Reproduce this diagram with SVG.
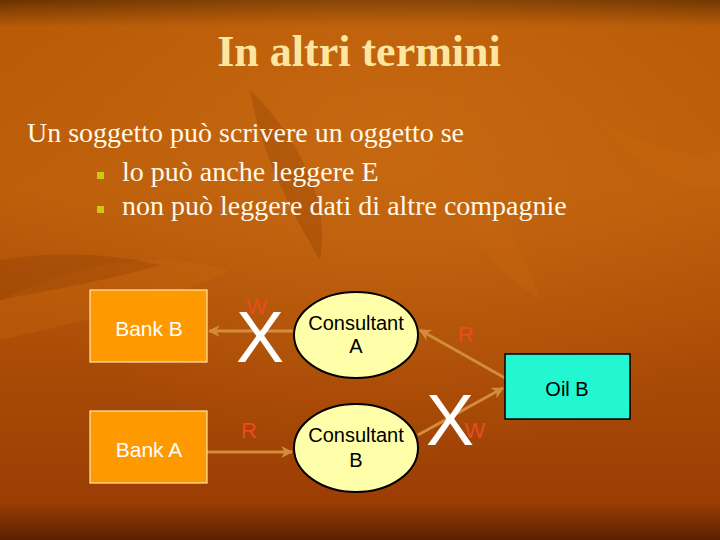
<svg xmlns="http://www.w3.org/2000/svg" width="720" height="540" viewBox="0 0 720 540">
<defs>
<linearGradient id="bg" x1="0" y1="0" x2="0" y2="1">
<stop offset="0" stop-color="#6a3300"/>
<stop offset="0.05" stop-color="#b85a06"/>
<stop offset="0.35" stop-color="#bc5e0a"/>
<stop offset="0.7" stop-color="#a84a06"/>
<stop offset="0.93" stop-color="#9c3e04"/>
<stop offset="1" stop-color="#5a2000"/>
</linearGradient>
<radialGradient id="glow" cx="0.55" cy="0.25" r="0.6">
<stop offset="0" stop-color="#d27418" stop-opacity="0.5"/>
<stop offset="1" stop-color="#d27418" stop-opacity="0"/>
</radialGradient>
<marker id="ah" viewBox="0 0 10 10" refX="9" refY="5" markerWidth="4" markerHeight="4" orient="auto" markerUnits="strokeWidth">
<path d="M0,0 L10,5 L0,10 L3,5 Z" fill="#d48c3c"/>
</marker>
<style>
.bank{fill:#ff9900;stroke:#ffe6b0;stroke-width:1.2}
.cons{fill:#ffffaa;stroke:#000;stroke-width:2}
.oil{fill:#22f7d2;stroke:#000;stroke-width:1.5}
.edge{stroke:#d48c3c;stroke-width:3;fill:none;marker-end:url(#ah)}
.ws{font-family:"Liberation Sans",Arial,sans-serif;fill:#fff;font-size:21px;text-anchor:middle}
.bs{font-family:"Liberation Sans",Arial,sans-serif;fill:#000;font-size:20px;text-anchor:middle}
.lab{font-family:"Liberation Sans",Arial,sans-serif;fill:#ec4a22;font-size:22px;text-anchor:middle}
.x{font-family:"Liberation Sans",Arial,sans-serif;fill:#fff;font-size:72px;text-anchor:middle}
.body{font-family:"Liberation Serif","Times New Roman",serif;fill:#fff8e8;font-size:28px}
.blt{fill:#cdc810}
</style>
</defs>
<rect width="720" height="540" fill="url(#bg)"/>
<rect width="720" height="540" fill="url(#glow)"/>
<g fill="#c8680e" opacity="0.35">
<path d="M0,300 C80,260 160,250 230,270 C170,300 90,320 0,340 Z"/>
<path d="M420,120 C470,170 520,230 540,300 C480,260 440,200 420,120 Z"/>
<path d="M600,120 C650,150 700,160 720,150 L720,190 C680,190 640,170 600,120 Z"/>
</g>
<g fill="#8c3a04" opacity="0.3">
<path d="M0,260 C60,250 120,255 160,265 C110,280 50,290 0,300 Z"/>
<path d="M250,90 C300,140 330,200 320,260 C290,210 260,150 250,90 Z"/>
</g>
<text x="359" y="66" font-family="'Liberation Serif','Times New Roman',serif" font-weight="bold" font-size="44" fill="#fde6a0" text-anchor="middle">In altri termini</text>
<text class="body" x="27" y="142">Un soggetto può scrivere un oggetto se</text>
<rect class="blt" x="97" y="172" width="7" height="7"/>
<text class="body" x="122" y="181">lo può anche leggere E</text>
<rect class="blt" x="97" y="206" width="7" height="7"/>
<text class="body" x="122" y="215">non può leggere dati di altre compagnie</text>
<g id="connectors">
<line class="edge" x1="294" y1="331" x2="209" y2="331"/>
<line class="edge" x1="505" y1="378" x2="420" y2="330"/>
<line class="edge" x1="207" y1="452" x2="292" y2="452"/>
<line class="edge" x1="418" y1="435" x2="503" y2="388"/>
</g>
<g id="labels">
<text class="lab" x="257" y="314">W</text>
<text class="lab" x="466" y="342">R</text>
<text class="lab" x="249" y="438">R</text>
<text class="lab" x="475" y="438">W</text>
</g>
<g id="bankB"><rect class="bank" x="90" y="290" width="117" height="72"/><text class="ws" x="149" y="336">Bank B</text></g>
<g id="bankA"><rect class="bank" x="90" y="411" width="117" height="72"/><text class="ws" x="149" y="457">Bank A</text></g>
<g id="consA"><ellipse class="cons" cx="356" cy="335" rx="62" ry="43"/><text class="bs" x="356" y="330">Consultant</text><text class="bs" x="356" y="353">A</text></g>
<g id="consB"><ellipse class="cons" cx="356" cy="448" rx="62" ry="44"/><text class="bs" x="356" y="442">Consultant</text><text class="bs" x="356" y="467">B</text></g>
<g id="oilB"><rect class="oil" x="505" y="354" width="125" height="65"/><text class="bs" x="567" y="396" font-size="21">Oil B</text></g>
<g id="crosses">
<text class="x" x="260" y="362">X</text>
<text class="x" x="450" y="445">X</text>
</g>
</svg>
